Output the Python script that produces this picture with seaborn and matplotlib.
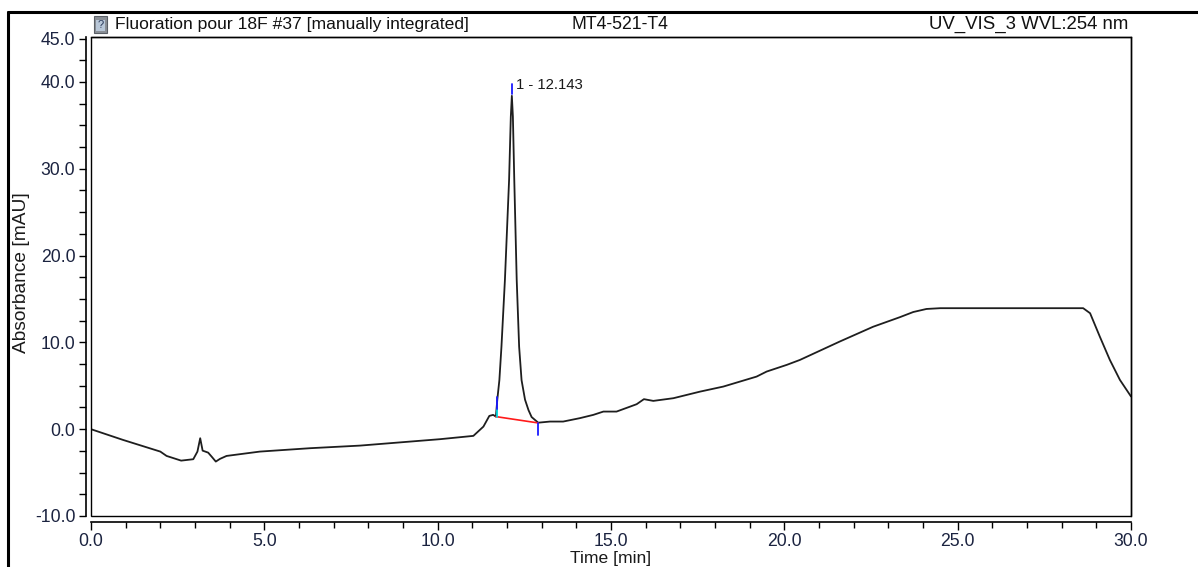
import numpy as np
import pandas as pd
import seaborn as sns
import matplotlib
matplotlib.use("Agg")
import matplotlib.pyplot as plt
from matplotlib.lines import Line2D
from matplotlib.patches import Rectangle
from matplotlib.ticker import FixedLocator, MultipleLocator

# ---------------- data ----------------
time_min = [0.00, 0.92, 2.00, 2.18, 2.60, 2.95, 3.07, 3.15, 3.22, 3.38, 3.48,
            3.60, 3.72, 3.91, 4.87, 6.32, 7.76, 10.07, 11.03, 11.32, 11.49,
            11.60, 11.68, 11.72, 11.78, 11.84, 11.94, 12.06, 12.11, 12.14,
            12.17, 12.21, 12.28, 12.35, 12.42, 12.52, 12.62, 12.71, 12.90,
            13.24, 13.62, 14.10, 14.49, 14.78, 15.16, 15.55, 15.74, 15.95,
            16.22, 16.80, 17.57, 18.24, 19.20, 19.49, 20.07, 20.45, 21.60,
            22.56, 23.33, 23.72, 24.10, 24.50, 28.62, 28.82, 29.10, 29.39,
            29.68, 30.00]
absorbance_mau = [0.00, -1.23, -2.58, -3.08, -3.62, -3.46, -2.58, -1.04, -2.47,
                  -2.70, -3.16, -3.73, -3.42, -3.08, -2.58, -2.19, -1.89, -1.15,
                  -0.77, 0.30, 1.53, 1.65, 1.45, 3.40, 5.65, 9.50, 17.20, 28.70,
                  36.00, 38.40, 36.00, 28.70, 17.20, 9.50, 5.65, 3.40, 2.20, 1.40,
                  0.75, 0.88, 0.88, 1.27, 1.65, 2.03, 2.03, 2.60, 2.88, 3.46,
                  3.26, 3.57, 4.33, 4.91, 6.06, 6.64, 7.41, 7.98, 10.10, 11.80,
                  12.90, 13.50, 13.85, 13.94, 13.94, 13.36, 10.67, 7.98, 5.68, 3.77]

x_ticks = [0, 5, 10, 15, 20, 25, 30]
x_tick_labels = ["0.0", "5.0", "10.0", "15.0", "20.0", "25.0", "30.0"]
y_ticks = [-10, 0, 10, 20, 30, 40, 45]
y_tick_labels = ["-10.0", "0.0", "10.0", "20.0", "30.0", "40.0", "45.0"]

peak_time = 12.14
peak_label = "1 - 12.143"
peak_marker = [38.6, 39.8]
baseline_time = [11.68, 12.90]
baseline_value = [1.45, 0.72]
start_tick_blue = [2.30, 3.70]
start_tick_cyan = [1.45, 2.30]
end_tick_blue = [0.72, -0.69]

title_left = "Fluoration pour 18F #37 [manually integrated]"
title_mid = "MT4-521-T4"
title_right = "UV_VIS_3 WVL:254 nm"
x_label = "Time [min]"
y_label = "Absorbance [mAU]"

# ---------------- drawing ----------------
sns.set_theme(style="white")
plt.rcParams["font.family"] = ["Liberation Sans", "DejaVu Sans"]

W, H = 1198, 567
fig = plt.figure(figsize=(W / 100, H / 100), dpi=100)
ax = fig.add_axes([91 / W, 51 / H, 1040 / W, 479 / H])

df = pd.DataFrame({"time": time_min, "absorbance": absorbance_mau})
sns.lineplot(data=df, x="time", y="absorbance", ax=ax, color="#1e1e1e",
             linewidth=1.3, estimator=None, sort=False)

# integration marks
ax.plot(baseline_time, baseline_value, color="#ff1a1a", lw=1.2)
ax.plot([baseline_time[0] + 0.02] * 2, start_tick_cyan, color="#00d8e0", lw=1.3)
ax.plot([baseline_time[0] + 0.02] * 2, start_tick_blue, color="#1a1aff", lw=1.3)
ax.plot([baseline_time[1]] * 2, end_tick_blue, color="#1a1aff", lw=1.3)
ax.plot([peak_time] * 2, peak_marker, color="#1a1aff", lw=1.3)
ax.text(peak_time + 0.12, 39.7, peak_label, ha="left", va="center",
        fontsize=10.7, color="#1a1a1a")

ax.set_xlim(0, 30)
ax.set_ylim(-10, 45.18)

ax.xaxis.set_major_locator(FixedLocator(x_ticks))
ax.set_xticklabels(x_tick_labels)
ax.xaxis.set_minor_locator(MultipleLocator(1))
ax.yaxis.set_major_locator(FixedLocator(y_ticks))
ax.set_yticklabels(y_tick_labels)
ax.yaxis.set_minor_locator(MultipleLocator(2.5))

tick_color = "#1b2340"
ax.tick_params(axis="x", which="both", bottom=True, top=False, direction="out",
               color="black", width=1.0, labelsize=12.7, labelcolor=tick_color, pad=2)
ax.tick_params(axis="x", which="major", length=6)
ax.tick_params(axis="x", which="minor", length=4)
ax.tick_params(axis="y", which="both", left=True, right=False, direction="out",
               color="black", width=1.0, length=5, labelsize=12.7,
               labelcolor=tick_color, pad=2.5)

for s in ["top", "right"]:
    ax.spines[s].set_color("black")
    ax.spines[s].set_linewidth(1.0)
ax.spines["left"].set_position(("outward", 3.8))
ax.spines["bottom"].set_position(("outward", 4.0))
for s in ["left", "bottom"]:
    ax.spines[s].set_color("black")
    ax.spines[s].set_linewidth(1.2)

# inner frame at the data area
ax.add_patch(Rectangle((0, 0), 1, 1, transform=ax.transAxes, fill=False,
                       edgecolor="black", lw=1.0, clip_on=False, zorder=5))

ax.set_xlabel(x_label, fontsize=12.6, color="#1a1a1a")
ax.set_ylabel(y_label, fontsize=13.8, color="#1a1a1a")
ax.xaxis.set_label_coords(0.5, -0.074)
ax.yaxis.set_label_coords(-0.0585, 0.508)

# header texts
ty = 1 - 29 / H
fig.text(115 / W, ty, title_left, ha="left", va="baseline", fontsize=12.6, color="#111111")
fig.text(620 / W, ty, title_mid, ha="center", va="baseline", fontsize=12.7, color="#111111")
fig.text(1128 / W, ty, title_right, ha="right", va="baseline", fontsize=13.4, color="#111111")

# small document icon
fig.add_artist(Rectangle((94 / W, 1 - 33 / H), 13 / W, 17 / H, transform=fig.transFigure,
                         facecolor="#8a8f96", edgecolor="#5a5f66", lw=0.8))
fig.add_artist(Rectangle((96 / W, 1 - 31 / H), 9 / W, 11 / H, transform=fig.transFigure,
                         facecolor="#b8c7d8", edgecolor="none"))
fig.text(100.5 / W, 1 - 25.5 / H, "?", ha="center", va="center", fontsize=8,
         color="#2a3a5a")

# outer page border
fig.add_artist(Line2D([8 / W, 1.0], [1 - 12 / H, 1 - 12 / H], transform=fig.transFigure,
                      color="black", lw=2.2))
fig.add_artist(Line2D([8 / W, 8 / W], [0, 1 - 12 / H], transform=fig.transFigure,
                      color="black", lw=2.2))

fig.savefig("out.png", dpi=100)
